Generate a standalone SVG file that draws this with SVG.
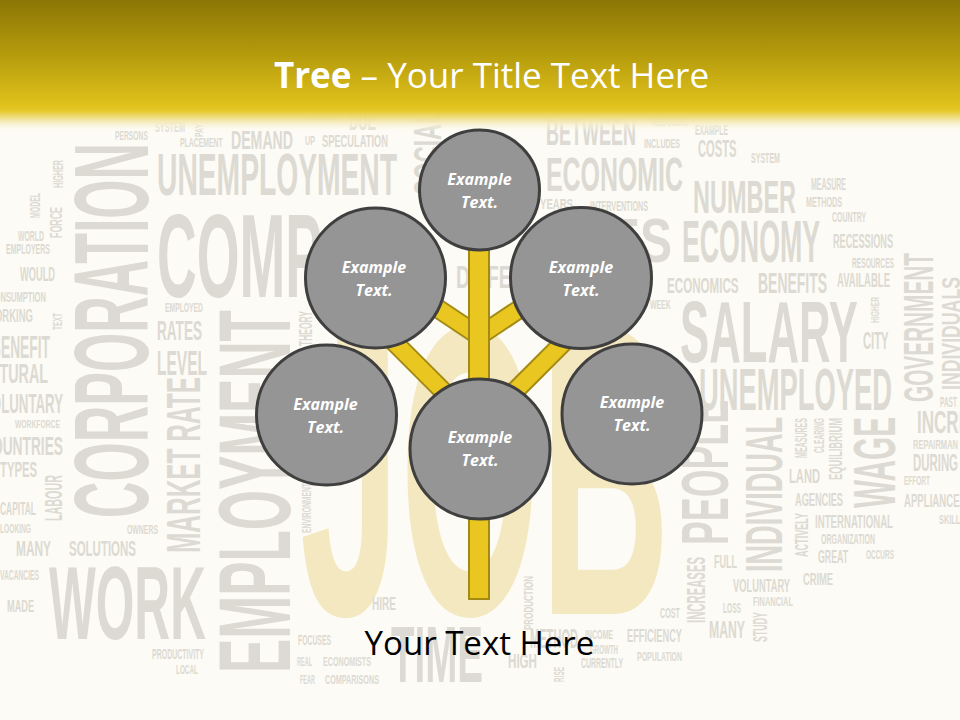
<svg xmlns="http://www.w3.org/2000/svg" width="960" height="720" viewBox="0 0 960 720">
<defs>
<linearGradient id="hdr" x1="0" y1="0" x2="0" y2="1">
<stop offset="0" stop-color="#8c7605"/>
<stop offset="0.4" stop-color="#b39a0c"/>
<stop offset="0.8" stop-color="#e1c21b"/>
<stop offset="0.84" stop-color="#e5c92a"/>
<stop offset="0.93" stop-color="#f6ecc0" stop-opacity="0.9"/>
<stop offset="1" stop-color="#fdfbf5" stop-opacity="0"/>
</linearGradient>
<style>
.w{fill:#dcdad2;font-family:"Liberation Sans","DejaVu Sans",sans-serif;font-weight:bold}
.node circle{fill:#959595;stroke:#3f3f3f;stroke-width:3}
.node text{fill:#ffffff;font-family:"Open Sans","DejaVu Sans",sans-serif;font-size:16px;font-weight:bold;font-style:italic;text-anchor:middle}
.bo{stroke:#a38a14;stroke-width:20;fill:none}
.bi{stroke:#e9c620;stroke-width:16;fill:none}
</style>
</defs>
<rect x="0" y="0" width="960" height="720" fill="#fdfbf5"/>
<g id="background-words">
<text fill="#f4e8c1" font-family="Liberation Sans, sans-serif" font-weight="bold" font-size="413" x="300" y="614" textLength="370" lengthAdjust="spacingAndGlyphs">JOB</text>
<text class="w" x="115" y="140" font-size="12.6" textLength="33" lengthAdjust="spacingAndGlyphs">PERSONS</text>
<text class="w" x="155" y="131.7" font-size="14" textLength="30" lengthAdjust="spacingAndGlyphs">SYSTEM</text>
<text class="w" x="180" y="146.7" font-size="12.6" textLength="42.7" lengthAdjust="spacingAndGlyphs">PLACEMENT</text>
<text class="w" x="231" y="149.3" font-size="26.5" textLength="62" lengthAdjust="spacingAndGlyphs">DEMAND</text>
<text class="w" x="305" y="145" font-size="12.6" textLength="10" lengthAdjust="spacingAndGlyphs">UP</text>
<text class="w" x="322" y="146.7" font-size="16.8" textLength="66" lengthAdjust="spacingAndGlyphs">SPECULATION</text>
<text class="w" x="305" y="120" font-size="14" textLength="33" lengthAdjust="spacingAndGlyphs">TRADE</text>
<text class="w" x="349" y="130" font-size="25" textLength="27" lengthAdjust="spacingAndGlyphs">DUE</text>
<text class="w" x="157" y="195" font-size="58.7" textLength="240" lengthAdjust="spacingAndGlyphs">UNEMPLOYMENT</text>
<text class="w" x="157" y="296.7" font-size="118.7" textLength="165" lengthAdjust="spacingAndGlyphs">COMP</text>
<text class="w" x="18" y="240.7" font-size="14" textLength="26" lengthAdjust="spacingAndGlyphs">WORLD</text>
<text class="w" x="6" y="254" font-size="15" textLength="44" lengthAdjust="spacingAndGlyphs">EMPLOYERS</text>
<text class="w" x="20" y="280.7" font-size="19.5" textLength="35" lengthAdjust="spacingAndGlyphs">WOULD</text>
<text class="w" x="-11" y="301.7" font-size="14" textLength="57" lengthAdjust="spacingAndGlyphs">CONSUMPTION</text>
<text class="w" x="-14" y="322.3" font-size="18" textLength="47" lengthAdjust="spacingAndGlyphs">WORKING</text>
<text class="w" x="-9" y="358.3" font-size="30.7" textLength="59" lengthAdjust="spacingAndGlyphs">BENEFIT</text>
<text class="w" x="-50" y="383" font-size="28" textLength="98" lengthAdjust="spacingAndGlyphs">STRUCTURAL</text>
<text class="w" x="-18" y="413" font-size="28" textLength="81" lengthAdjust="spacingAndGlyphs">VOLUNTARY</text>
<text class="w" x="165" y="311.7" font-size="12.6" textLength="38" lengthAdjust="spacingAndGlyphs">EMPLOYED</text>
<text class="w" x="157" y="340" font-size="28" textLength="45" lengthAdjust="spacingAndGlyphs">RATES</text>
<text class="w" x="157" y="375" font-size="35" textLength="50" lengthAdjust="spacingAndGlyphs">LEVEL</text>
<text class="w" x="15" y="428.3" font-size="11" textLength="45" lengthAdjust="spacingAndGlyphs">WORKFORCE</text>
<text class="w" x="-18" y="455" font-size="25" textLength="81" lengthAdjust="spacingAndGlyphs">COUNTRIES</text>
<text class="w" x="0" y="477.3" font-size="22" textLength="37" lengthAdjust="spacingAndGlyphs">TYPES</text>
<text class="w" x="0" y="515" font-size="18" textLength="36" lengthAdjust="spacingAndGlyphs">CAPITAL</text>
<text class="w" x="0" y="532.7" font-size="12.6" textLength="31" lengthAdjust="spacingAndGlyphs">LOOKING</text>
<text class="w" x="127" y="534" font-size="12.6" textLength="31" lengthAdjust="spacingAndGlyphs">OWNERS</text>
<text class="w" x="16" y="556" font-size="22" textLength="35" lengthAdjust="spacingAndGlyphs">MANY</text>
<text class="w" x="69" y="556" font-size="22" textLength="67" lengthAdjust="spacingAndGlyphs">SOLUTIONS</text>
<text class="w" x="0" y="580" font-size="14" textLength="39" lengthAdjust="spacingAndGlyphs">VACANCIES</text>
<text class="w" x="7" y="611.7" font-size="17" textLength="27" lengthAdjust="spacingAndGlyphs">MADE</text>
<text class="w" x="49" y="639.3" font-size="103" textLength="157" lengthAdjust="spacingAndGlyphs">WORK</text>
<text class="w" x="152" y="659.3" font-size="15" textLength="52" lengthAdjust="spacingAndGlyphs">PRODUCTIVITY</text>
<text class="w" x="176" y="674" font-size="12.6" textLength="22" lengthAdjust="spacingAndGlyphs">LOCAL</text>
<text class="w" x="298" y="645" font-size="14" textLength="33" lengthAdjust="spacingAndGlyphs">FOCUSES</text>
<text class="w" x="297" y="666" font-size="12.6" textLength="15" lengthAdjust="spacingAndGlyphs">REAL</text>
<text class="w" x="323" y="666" font-size="12.6" textLength="48" lengthAdjust="spacingAndGlyphs">ECONOMISTS</text>
<text class="w" x="300" y="684" font-size="12.6" textLength="15" lengthAdjust="spacingAndGlyphs">FEAR</text>
<text class="w" x="325" y="684" font-size="12.6" textLength="54" lengthAdjust="spacingAndGlyphs">COMPARISONS</text>
<text class="w" x="372" y="610" font-size="18" textLength="24" lengthAdjust="spacingAndGlyphs">HIRE</text>
<text class="w" x="391" y="681.7" font-size="80" textLength="92" lengthAdjust="spacingAndGlyphs">TIME</text>
<text class="w" x="508" y="668" font-size="21" textLength="29" lengthAdjust="spacingAndGlyphs">HIGH</text>
<text class="w" x="530" y="648" font-size="28" textLength="48" lengthAdjust="spacingAndGlyphs">METHOD</text>
<text class="w" x="585" y="639" font-size="12.6" textLength="28" lengthAdjust="spacingAndGlyphs">INCOME</text>
<text class="w" x="590" y="654" font-size="12.6" textLength="28" lengthAdjust="spacingAndGlyphs">GROWTH</text>
<text class="w" x="581" y="668" font-size="14" textLength="42" lengthAdjust="spacingAndGlyphs">CURRENTLY</text>
<text class="w" x="627" y="642" font-size="18" textLength="55" lengthAdjust="spacingAndGlyphs">EFFICIENCY</text>
<text class="w" x="637" y="661" font-size="12.6" textLength="45" lengthAdjust="spacingAndGlyphs">POPULATION</text>
<text class="w" x="660" y="618" font-size="14" textLength="20" lengthAdjust="spacingAndGlyphs">COST</text>
<text class="w" x="714" y="568.3" font-size="18" textLength="23" lengthAdjust="spacingAndGlyphs">FULL</text>
<text class="w" x="733" y="591.7" font-size="18" textLength="57" lengthAdjust="spacingAndGlyphs">VOLUNTARY</text>
<text class="w" x="753" y="606" font-size="12.6" textLength="40" lengthAdjust="spacingAndGlyphs">FINANCIAL</text>
<text class="w" x="723" y="612.7" font-size="14" textLength="18" lengthAdjust="spacingAndGlyphs">LOSS</text>
<text class="w" x="709" y="637.7" font-size="24" textLength="36" lengthAdjust="spacingAndGlyphs">MANY</text>
<text class="w" x="789" y="483" font-size="21" textLength="31" lengthAdjust="spacingAndGlyphs">LAND</text>
<text class="w" x="795" y="506" font-size="18" textLength="48" lengthAdjust="spacingAndGlyphs">AGENCIES</text>
<text class="w" x="815" y="528.3" font-size="18" textLength="78" lengthAdjust="spacingAndGlyphs">INTERNATIONAL</text>
<text class="w" x="821" y="544" font-size="14" textLength="54" lengthAdjust="spacingAndGlyphs">ORGANIZATION</text>
<text class="w" x="818" y="563.3" font-size="18" textLength="30" lengthAdjust="spacingAndGlyphs">GREAT</text>
<text class="w" x="866" y="559.3" font-size="12.6" textLength="28" lengthAdjust="spacingAndGlyphs">OCCURS</text>
<text class="w" x="803" y="585" font-size="17" textLength="30" lengthAdjust="spacingAndGlyphs">CRIME</text>
<text class="w" x="917" y="433.3" font-size="30.7" textLength="88" lengthAdjust="spacingAndGlyphs">INCREASE</text>
<text class="w" x="913" y="449.3" font-size="12.6" textLength="45" lengthAdjust="spacingAndGlyphs">REPAIRMAN</text>
<text class="w" x="913" y="470.7" font-size="24" textLength="45" lengthAdjust="spacingAndGlyphs">DURING</text>
<text class="w" x="904" y="485" font-size="12.6" textLength="26" lengthAdjust="spacingAndGlyphs">EFFORT</text>
<text class="w" x="904" y="506.7" font-size="18" textLength="62" lengthAdjust="spacingAndGlyphs">APPLIANCES</text>
<text class="w" x="939" y="524" font-size="12.6" textLength="26" lengthAdjust="spacingAndGlyphs">SKILLS</text>
<text class="w" x="940" y="406.7" font-size="14" textLength="17" lengthAdjust="spacingAndGlyphs">PAST</text>
<text class="w" x="652" y="126" font-size="12.6" textLength="36.6" lengthAdjust="spacingAndGlyphs">REDUCING</text>
<text class="w" x="695" y="135" font-size="14" textLength="33" lengthAdjust="spacingAndGlyphs">EXAMPLE</text>
<text class="w" x="644" y="148.3" font-size="12.6" textLength="36" lengthAdjust="spacingAndGlyphs">INCLUDES</text>
<text class="w" x="698" y="156.7" font-size="24" textLength="38.4" lengthAdjust="spacingAndGlyphs">COSTS</text>
<text class="w" x="751" y="162.7" font-size="14" textLength="29" lengthAdjust="spacingAndGlyphs">SYSTEM</text>
<text class="w" x="546" y="191" font-size="49" textLength="137" lengthAdjust="spacingAndGlyphs">ECONOMIC</text>
<text class="w" x="693" y="213.3" font-size="46" textLength="103" lengthAdjust="spacingAndGlyphs">NUMBER</text>
<text class="w" x="811" y="190" font-size="16" textLength="35" lengthAdjust="spacingAndGlyphs">MEASURE</text>
<text class="w" x="806" y="206.7" font-size="15" textLength="36" lengthAdjust="spacingAndGlyphs">METHODS</text>
<text class="w" x="832" y="221.7" font-size="14" textLength="34" lengthAdjust="spacingAndGlyphs">COUNTRY</text>
<text class="w" x="833" y="247.7" font-size="19.5" textLength="60" lengthAdjust="spacingAndGlyphs">RECESSIONS</text>
<text class="w" x="852" y="267.7" font-size="15" textLength="42" lengthAdjust="spacingAndGlyphs">RESOURCES</text>
<text class="w" x="837" y="287.3" font-size="19.5" textLength="53" lengthAdjust="spacingAndGlyphs">AVAILABLE</text>
<text class="w" x="667" y="292.7" font-size="22" textLength="71.6" lengthAdjust="spacingAndGlyphs">ECONOMICS</text>
<text class="w" x="758" y="292.7" font-size="29" textLength="69" lengthAdjust="spacingAndGlyphs">BENEFITS</text>
<text class="w" x="650" y="309" font-size="12.6" textLength="20.7" lengthAdjust="spacingAndGlyphs">WEEK</text>
<text class="w" x="680" y="361.7" font-size="88" textLength="178" lengthAdjust="spacingAndGlyphs">SALARY</text>
<text class="w" x="863" y="349.3" font-size="23.5" textLength="25.6" lengthAdjust="spacingAndGlyphs">CITY</text>
<text class="w" x="699" y="410" font-size="58.7" textLength="193" lengthAdjust="spacingAndGlyphs">UNEMPLOYED</text>
<text class="w" x="608" y="262" font-size="63" textLength="64" lengthAdjust="spacingAndGlyphs">ES</text>
<text class="w" x="682" y="261.7" font-size="58.7" textLength="138" lengthAdjust="spacingAndGlyphs">ECONOMY</text>
<text class="w" x="546" y="145" font-size="37.7" textLength="90" lengthAdjust="spacingAndGlyphs">BETWEEN</text>
<text class="w" x="540" y="209" font-size="15" textLength="33" lengthAdjust="spacingAndGlyphs">YEARS</text>
<text class="w" x="590" y="210.7" font-size="15" textLength="58" lengthAdjust="spacingAndGlyphs">INTERVENTIONS</text>
<text class="w" x="456" y="288.3" font-size="30.7" textLength="108" lengthAdjust="spacingAndGlyphs">DIFFERENT</text>
<text class="w" transform="translate(203,137) rotate(-90)" font-size="11" textLength="13" lengthAdjust="spacingAndGlyphs">PAY</text>
<text class="w" transform="translate(63,188) rotate(-90)" font-size="14" textLength="28" lengthAdjust="spacingAndGlyphs">HIGHER</text>
<text class="w" transform="translate(40,218) rotate(-90)" font-size="14" textLength="25" lengthAdjust="spacingAndGlyphs">MODEL</text>
<text class="w" transform="translate(62,238) rotate(-90)" font-size="17" textLength="31" lengthAdjust="spacingAndGlyphs">FORCE</text>
<text class="w" transform="translate(62,330) rotate(-90)" font-size="12.6" textLength="17" lengthAdjust="spacingAndGlyphs">TEXT</text>
<text class="w" transform="translate(148,518) rotate(-90)" font-size="105" textLength="375" lengthAdjust="spacingAndGlyphs">CORPORATION</text>
<text class="w" transform="translate(200,553) rotate(-90)" font-size="49" textLength="176" lengthAdjust="spacingAndGlyphs">MARKET RATE</text>
<text class="w" transform="translate(290,673) rotate(-90)" font-size="102" textLength="363" lengthAdjust="spacingAndGlyphs">EMPLOYMENT</text>
<text class="w" transform="translate(312,346) rotate(-90)" font-size="18" textLength="35" lengthAdjust="spacingAndGlyphs">THEORY</text>
<text class="w" transform="translate(62,521) rotate(-90)" font-size="24" textLength="46" lengthAdjust="spacingAndGlyphs">LABOUR</text>
<text class="w" transform="translate(311,533) rotate(-90)" font-size="12.6" textLength="50" lengthAdjust="spacingAndGlyphs">ENVIRONMENT</text>
<text class="w" transform="translate(533,630) rotate(-90)" font-size="12.6" textLength="54" lengthAdjust="spacingAndGlyphs">PRODUCTION</text>
<text class="w" transform="translate(564,682) rotate(-90)" font-size="15" textLength="15" lengthAdjust="spacingAndGlyphs">RISE</text>
<text class="w" transform="translate(705,623) rotate(-90)" font-size="25" textLength="66" lengthAdjust="spacingAndGlyphs">INCREASES</text>
<text class="w" transform="translate(728,545) rotate(-90)" font-size="67" textLength="145" lengthAdjust="spacingAndGlyphs">PEOPLE</text>
<text class="w" transform="translate(782,572) rotate(-90)" font-size="52" textLength="155" lengthAdjust="spacingAndGlyphs">INDIVIDUAL</text>
<text class="w" transform="translate(807,458) rotate(-90)" font-size="16.8" textLength="40" lengthAdjust="spacingAndGlyphs">MEASURES</text>
<text class="w" transform="translate(824,453) rotate(-90)" font-size="15.4" textLength="35" lengthAdjust="spacingAndGlyphs">CLEARING</text>
<text class="w" transform="translate(842,480) rotate(-90)" font-size="18" textLength="62" lengthAdjust="spacingAndGlyphs">EQUILIBRIUM</text>
<text class="w" transform="translate(895,508) rotate(-90)" font-size="60" textLength="91" lengthAdjust="spacingAndGlyphs">WAGE</text>
<text class="w" transform="translate(808,557) rotate(-90)" font-size="18" textLength="44" lengthAdjust="spacingAndGlyphs">ACTIVELY</text>
<text class="w" transform="translate(767,642) rotate(-90)" font-size="19.6" textLength="30" lengthAdjust="spacingAndGlyphs">STUDY</text>
<text class="w" transform="translate(879,323) rotate(-90)" font-size="10" textLength="26" lengthAdjust="spacingAndGlyphs">HIGHER</text>
<text class="w" transform="translate(933,402) rotate(-90)" font-size="43" textLength="149" lengthAdjust="spacingAndGlyphs">GOVERNMENT</text>
<text class="w" transform="translate(960,390) rotate(-90)" font-size="25" textLength="113" lengthAdjust="spacingAndGlyphs">INDIVIDUALS</text>
<text class="w" transform="translate(441,195) rotate(-90)" font-size="39" textLength="85" lengthAdjust="spacingAndGlyphs">SOCIAL</text>
</g>
<rect x="0" y="0" width="960" height="132" fill="url(#hdr)"/>
<text x="491.5" y="88" fill="#ffffff" font-family="Open Sans, DejaVu Sans, sans-serif" font-size="35" text-anchor="middle"><tspan font-weight="bold">Tree</tspan> – Your Title Text Here</text>
<g id="connectors">
<line class="bo" x1="425" y1="300" x2="479" y2="336"/>
<line class="bi" x1="425" y1="300" x2="479" y2="336"/>
<line class="bo" x1="533" y1="300" x2="479" y2="336"/>
<line class="bi" x1="533" y1="300" x2="479" y2="336"/>
<line class="bo" x1="385" y1="333" x2="462" y2="410"/>
<line class="bi" x1="385" y1="333" x2="462" y2="410"/>
<line class="bo" x1="573" y1="333" x2="496" y2="410"/>
<line class="bi" x1="573" y1="333" x2="496" y2="410"/>
<rect x="469" y="240" width="20" height="359" fill="#e9c620" stroke="#a38a14" stroke-width="2"/>
</g>
<g id="node-top" class="node"><circle cx="479.5" cy="190" r="60"/><text x="479.5" y="185">Example</text><text x="479.5" y="208">Text.</text></g>
<g id="node-upper-left" class="node"><circle cx="375.5" cy="278" r="70"/><text x="374" y="273">Example</text><text x="374" y="296">Text.</text></g>
<g id="node-upper-right" class="node"><circle cx="581" cy="278" r="70.5"/><text x="581" y="273">Example</text><text x="581" y="296">Text.</text></g>
<g id="node-lower-left" class="node"><circle cx="326.5" cy="415" r="70"/><text x="325.5" y="410">Example</text><text x="325.5" y="433">Text.</text></g>
<g id="node-center" class="node"><circle cx="480" cy="449" r="70"/><text x="480" y="443">Example</text><text x="480" y="466">Text.</text></g>
<g id="node-lower-right" class="node"><circle cx="632" cy="414" r="70"/><text x="632" y="408">Example</text><text x="632" y="431">Text.</text></g>
<text x="479.5" y="655" fill="#000000" font-family="Open Sans, DejaVu Sans, sans-serif" font-size="33" text-anchor="middle">Your Text Here</text>
</svg>
